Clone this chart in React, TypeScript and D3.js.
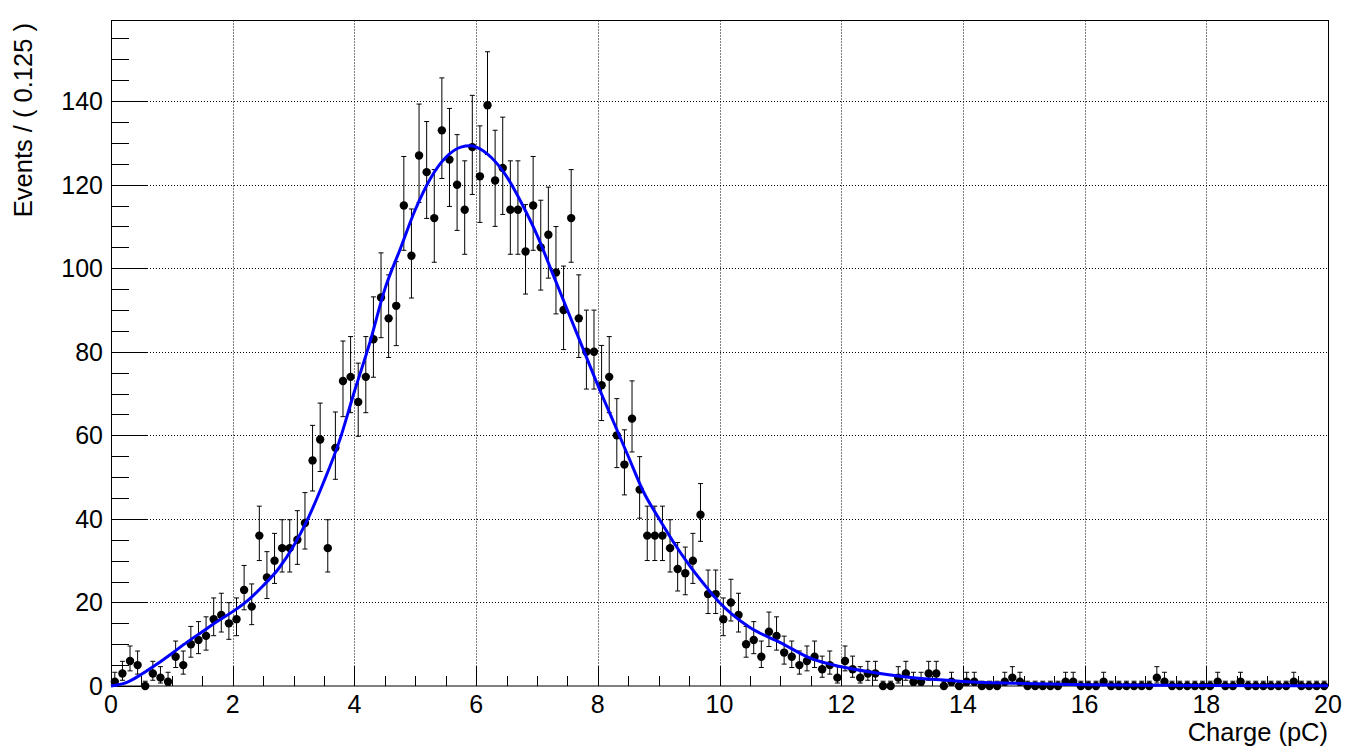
import React from "react";
import * as d3 from "d3";

// ---- data ----
const binWidth = 0.125;
const binStart = 0;
const counts: number[] = [
  1, 3, 6, 5, 0, 3, 2, 1, 7, 5, 10, 11, 12, 16, 17, 15, 16, 23, 19, 36,
  26, 30, 33, 33, 35, 39, 54, 59, 33, 57, 73, 74, 68, 74, 83, 93, 88, 91, 115, 103,
  127, 123, 112, 133, 126, 120, 114, 129, 122, 139, 121, 124, 114, 114, 104, 115, 105, 108, 99, 90,
  112, 88, 80, 80, 72, 74, 60, 53, 64, 47, 36, 36, 36, 33, 28, 27, 30, 41, 22, 22,
  16, 20, 17, 10, 11, 7, 13, 12, 8, 7, 5, 6, 7, 4, 5, 2, 6, 4, 2, 3,
  3, 0, 0, 2, 3, 1, 1, 3, 3, 0, 1, 0, 1, 1, 0, 0, 0, 1, 2, 1,
  0, 0, 0, 0, 0, 1, 1, 0, 0, 0, 1, 0, 0, 0, 0, 0, 0, 2, 1, 0,
  0, 0, 0, 0, 0, 1, 0, 0, 1, 0, 0, 0, 0, 0, 0, 1, 0, 0, 0, 0,
];

// fitted curve
const fitX: number[] = [
  0, 0.25, 0.5, 0.75, 1.0, 1.25, 1.5, 1.75, 2.0, 2.25, 2.5, 2.75, 3.0, 3.25, 3.5, 3.75,
  4.0, 4.25, 4.5, 4.75, 5.0, 5.25, 5.5, 5.75, 5.9, 6.0, 6.25, 6.5, 6.75, 7.0, 7.25, 7.5,
  7.75, 8.0, 8.25, 8.5, 8.75, 9.0, 9.25, 9.5, 9.75, 10.0, 10.5, 11.0, 11.5, 12.0, 12.5,
  13.0, 13.5, 14.0, 15.0, 16.0, 17.0, 18.0, 20.0,
];
const fitY: number[] = [
  0, 0.8, 2.8, 5.2, 7.8, 10.5, 13, 15.5, 17.8, 20.5, 24, 28, 33.5, 40.5, 49, 58.5,
  70.5, 82, 95, 104.5, 114, 121.5, 126.5, 129, 129.3, 129, 126.5, 122, 115.5, 108, 99, 90,
  81, 72, 63.5, 55, 46.5, 40.2, 34.3, 29, 24.3, 20, 14, 10.4, 6.6, 4.6, 3.3,
  2.3, 1.6, 1.1, 0.6, 0.3, 0.2, 0.1, 0.05,
];

const xTicks: number[] = [0, 2, 4, 6, 8, 10, 12, 14, 16, 18, 20];
const yTicks: number[] = [0, 20, 40, 60, 80, 100, 120, 140];
const xTitle = "Charge (pC)";
const yTitle = "Events / ( 0.125 )";

// Poisson 68% interval (Wilson-Hilferty approximation)
function poisson(n: number): [number, number] {
  if (n === 0) return [0, 1.148];
  const lo = n * Math.pow(1 - 1 / (9 * n) - 1 / (3 * Math.sqrt(n)), 3);
  const m = n + 1;
  const hi = m * Math.pow(1 - 1 / (9 * m) + 1 / (3 * Math.sqrt(m)), 3);
  return [lo, hi];
}

export default function App() {
  const W = 1352, H = 754;
  const left = 111, right = 1328, top = 20.5, bottom = 686;
  const x = d3.scaleLinear().domain([0, 20]).range([left, right]);
  const y = d3.scaleLinear().domain([0, 159.3]).range([bottom, top]);

  const font = "'Liberation Sans', Arial, Helvetica, sans-serif";
  const xMinor = d3.range(0, 20.001, 0.5);
  const yMinor = d3.range(0, 159, 5);

  const line = d3
    .line<number>()
    .x((_, i) => x(fitX[i]))
    .y((d) => y(d))
    .curve(d3.curveMonotoneX);

  const pts = counts.map((c, i) => ({ xv: binStart + binWidth * (i + 0.5), c }));

  return (
    <svg
      width={W}
      height={H}
      style={{ position: "absolute", left: 0, top: 0, background: "#fff" }}
      fontFamily={font}
    >
      <rect x={0} y={0} width={W} height={H} fill="#fff" />
      {/* grid */}
      <g stroke="#000" strokeWidth={1} strokeDasharray="1,2">
        {xTicks.slice(1, -1).map((t) => (
          <line key={"gx" + t} x1={Math.round(x(t)) + 0.5} x2={Math.round(x(t)) + 0.5} y1={top} y2={bottom} />
        ))}
        {yTicks.slice(1).map((t) => (
          <line key={"gy" + t} x1={left} x2={right} y1={Math.round(y(t)) + 0.5} y2={Math.round(y(t)) + 0.5} />
        ))}
      </g>
      {/* ticks */}
      <g stroke="#000" strokeWidth={1}>
        {xMinor.map((t) => {
          const isMajor = Math.abs(t / 2 - Math.round(t / 2)) < 1e-6;
          const px = Math.round(x(t)) + 0.5;
          return <line key={"tx" + t} x1={px} x2={px} y1={bottom} y2={bottom - (isMajor ? 20 : 10)} />;
        })}
        {yMinor.map((t) => {
          const isMajor = t % 20 === 0;
          const py = Math.round(y(t)) + 0.5;
          return <line key={"ty" + t} x1={left} x2={left + (isMajor ? 36 : 18)} y1={py} y2={py} />;
        })}
      </g>
      {/* frame */}
      <rect x={left + 0.5} y={top} width={right - left} height={bottom - top} fill="none" stroke="#000" strokeWidth={1} />
      {/* tick labels */}
      <g fontSize={25} fill="#000">
        {xTicks.map((t) => (
          <text key={"lx" + t} x={x(t)} y={712.5} textAnchor="middle">
            {t}
          </text>
        ))}
        {yTicks.map((t) => (
          <text key={"ly" + t} x={103} y={y(t)} dy="0.36em" textAnchor="end">
            {t}
          </text>
        ))}
      </g>
      {/* titles */}
      <text x={right} y={741} fontSize={25.5} textAnchor="end" fill="#000">
        {xTitle}
      </text>
      <text
        transform={`translate(32, 23) rotate(-90)`}
        fontSize={25.5}
        textAnchor="end"
        fill="#000"
      >
        {yTitle}
      </text>
      {/* data */}
      <g stroke="#000" strokeWidth={1}>
        {pts.map((p, i) => {
          const [lo, hi] = poisson(p.c);
          const px = x(p.xv);
          return (
            <g key={"e" + i}>
              <line x1={px} x2={px} y1={y(lo)} y2={y(hi)} />
              <line x1={px - 2.5} x2={px + 2.5} y1={y(lo)} y2={y(lo)} />
              <line x1={px - 2.5} x2={px + 2.5} y1={y(hi)} y2={y(hi)} />
            </g>
          );
        })}
      </g>
      <g fill="#000">
        {pts.map((p, i) => (
          <circle key={"p" + i} cx={x(p.xv)} cy={y(p.c)} r={4.2} />
        ))}
      </g>
      {/* fit curve */}
      <path d={line(fitY) || ""} fill="none" stroke="#0000ff" strokeWidth={3} />
    </svg>
  );
}
